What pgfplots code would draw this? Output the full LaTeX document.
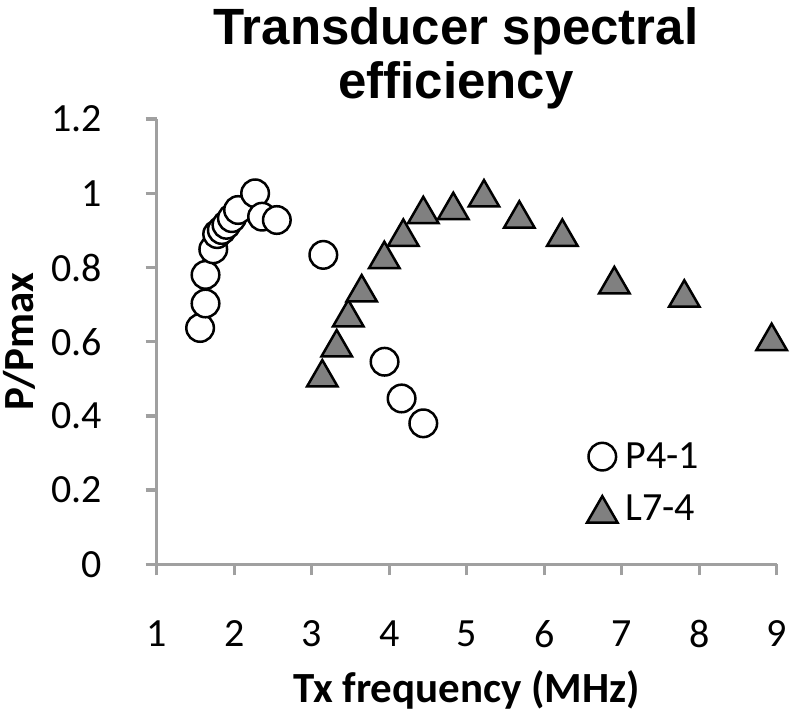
\documentclass[border=0pt]{standalone}
\usepackage{pgfplots}
\pgfplotsset{compat=1.18}
\usepackage{fontspec}
\setmainfont{Carlito}
\newfontfamily\titlefont{Liberation Sans}
\definecolor{axisgray}{RGB}{160,160,160}
\definecolor{trigray}{RGB}{128,128,128}
\begin{document}
\begin{tikzpicture}
\useasboundingbox (-78.35bp,-74.35bp) rectangle (321.65bp,282.15bp);
\begin{axis}[
  at={(0,0)}, anchor=south west,
  scale only axis, width=310bp, height=222.6bp,
  clip=false,
  xmin=1, xmax=9, ymin=0, ymax=1.2,
  xtick={1,2,3,4,5,6,7,8,9},
  ytick={0,0.2,0.4,0.6,0.8,1,1.2},
  axis x line*=bottom, axis y line*=left,
  axis line style={axisgray, line width=1.65bp},
  major tick style={axisgray, line width=1.65bp},
  tick align=outside, major tick length=5.5bp,
  /pgf/number format/assume math mode=true,
  tick label style={font=\fontsize{20bp}{24bp}\selectfont, inner sep=0pt},
  xticklabel style={anchor=center, yshift=-29.35bp},
  yticklabel style={anchor=east, xshift=-21.7bp},
  xlabel={Tx frequency (MHz)},
  ylabel={P/Pmax},
  label style={font=\bfseries\fontsize{21.5bp}{26bp}\selectfont, inner sep=0pt},
  xlabel style={at={(axis description cs:0.5,-0.3115)}, anchor=base},
  ylabel style={at={(axis description cs:-0.1995,0.5)}, anchor=base},
  every axis title shift=0pt,
  title={Transducer spectral\\efficiency},
  title style={font=\titlefont\bfseries\fontsize{25.5bp}{27bp}\selectfont, align=center,
    at={(axis description cs:0.4827,1.2518)}, anchor=north, inner sep=0pt},
  legend style={draw=none, fill=none, inner sep=0pt, column sep=4bp, row sep=12bp,
    font=\fontsize{20bp}{24bp}\selectfont, nodes={inner sep=0pt},
    at={(axis cs:6.548,0.330)}, anchor=north west},
  legend cell align=left,
  legend image code/.code={\draw[#1] plot coordinates {(8bp,0bp)};},
]
\addplot[only marks, mark=*, mark size=6.9bp,
  mark options={draw=black, fill=white, line width=1.25bp}] coordinates {
  (1.56,0.637) (1.63,0.703) (1.63,0.780) (1.73,0.849) (1.78,0.890)
  (1.84,0.901) (1.90,0.915) (1.97,0.933) (2.05,0.955) (2.27,1.000)
  (2.36,0.937) (2.55,0.928) (3.15,0.834) (3.94,0.546) (4.16,0.447) (4.44,0.380)
};
\addlegendentry{P4-1}
\addplot[only marks, mark=triangle*, mark size=8.8bp,
  mark options={draw=black, fill=trigray, line width=1.25bp, yshift=-2.2bp}] coordinates {
  (3.137,0.515) (3.323,0.596) (3.472,0.677) (3.645,0.744) (3.937,0.834)
  (4.182,0.894) (4.440,0.955) (4.827,0.966) (5.223,1.000) (5.679,0.943)
  (6.234,0.894) (6.905,0.766) (7.808,0.730) (8.935,0.613)
};
\addlegendentry{L7-4}
\end{axis}
\end{tikzpicture}
\end{document}
